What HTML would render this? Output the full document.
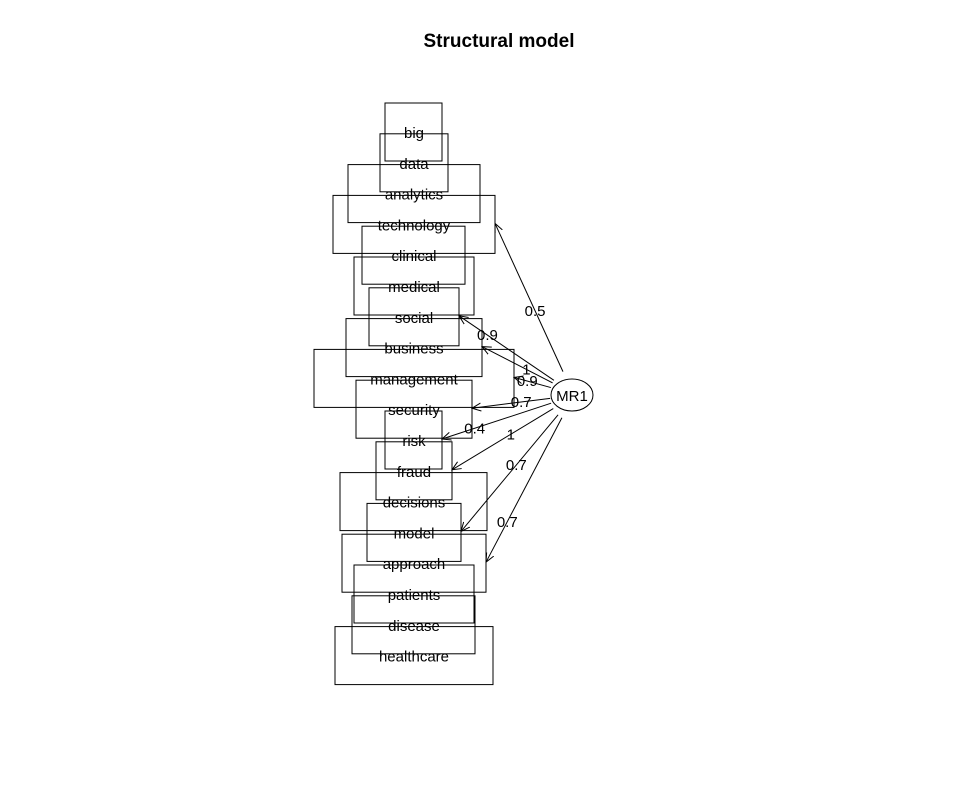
<!DOCTYPE html>
<html><head><meta charset="utf-8"><style>
body{margin:0;background:#fff}
svg{display:block;font-family:"Liberation Sans",Arial,sans-serif}
</style></head><body>
<svg width="960" height="807" viewBox="0 0 960 807">
<defs><marker id="ah" markerWidth="10" markerHeight="10" refX="9" refY="5" orient="auto" markerUnits="userSpaceOnUse"><path d="M0,1 L9,5 L0,9" fill="none" stroke="#000" stroke-width="1"/></marker></defs>
<text x="499" y="47" text-anchor="middle" font-size="19" font-weight="bold">Structural model</text>
<g id="boxes"></g>
<g id="arrows"></g>
<ellipse cx="572" cy="395" rx="21" ry="16" fill="#fff" stroke="#000"/>
<text x="572" y="401" text-anchor="middle" font-size="15">MR1</text>
</svg>
<script>
const items=["big","data","analytics","technology","clinical","medical","social","business","management","security","risk","fraud","decisions","model","approach","patients","disease","healthcare"];
const boxLeft=[385,380,348,333,362,354,369,346,314,356,385,376,340,367,342,354,352,335];
const boxRight=[442,448,480,495,465,474,459,482,514,472,442,452,487,461,486,474,475,493];
const loadItems=["technology","social","business","management","security","risk","fraud","model","approach"];
const loadings=["0.5","0.9","1","0.9","0.7","0.4","1","0.7","0.7"];
const labelFrac=[0.41,0.70,0.37,0.64,0.37,0.70,0.42,0.43,0.72];
const NS="http://www.w3.org/2000/svg";
const y0=132, dy=30.8, bh=58;
function yOf(i){return y0+i*dy;}
const gb=document.getElementById('boxes');
items.forEach((t,i)=>{
 const r=document.createElementNS(NS,'rect');
 r.setAttribute('x',boxLeft[i]);r.setAttribute('y',yOf(i)-29);
 r.setAttribute('width',boxRight[i]-boxLeft[i]);r.setAttribute('height',bh);
 r.setAttribute('fill','none');r.setAttribute('stroke','#000');
 
 
 gb.appendChild(r);
 const tx=document.createElementNS(NS,'text');
 tx.setAttribute('x',414);tx.setAttribute('y',yOf(i)+6);
 tx.setAttribute('text-anchor','middle');tx.setAttribute('font-size','15');
 tx.textContent=t;
 
 
 gb.appendChild(tx);
});
const ga=document.getElementById('arrows');
const cx=572,cy=395,rx=21,ry=16;
loadItems.forEach((t,k)=>{
 const i=items.indexOf(t);
 const ex=boxRight[i], ey=yOf(i)-1;
 const ang=Math.atan2(ey-cy,ex-cx);
 const sx=cx+rx*Math.cos(ang)*1.05, sy=cy+ry*Math.sin(ang)*1.6;
 const l=document.createElementNS(NS,'line');
 l.setAttribute('x1',sx);l.setAttribute('y1',sy);l.setAttribute('x2',ex);l.setAttribute('y2',ey);
 l.setAttribute('stroke','#000');l.setAttribute('marker-end','url(#ah)');
 
 
 ga.appendChild(l);
 const tx=document.createElementNS(NS,'text');
 const f=labelFrac[k];
 tx.setAttribute('x',sx+(ex-sx)*f);tx.setAttribute('y',sy+(ey-sy)*f+5);
 tx.setAttribute('text-anchor','middle');tx.setAttribute('font-size','15');
 tx.textContent=loadings[k];
 
 
 ga.appendChild(tx);
});
</script>
</body></html>
